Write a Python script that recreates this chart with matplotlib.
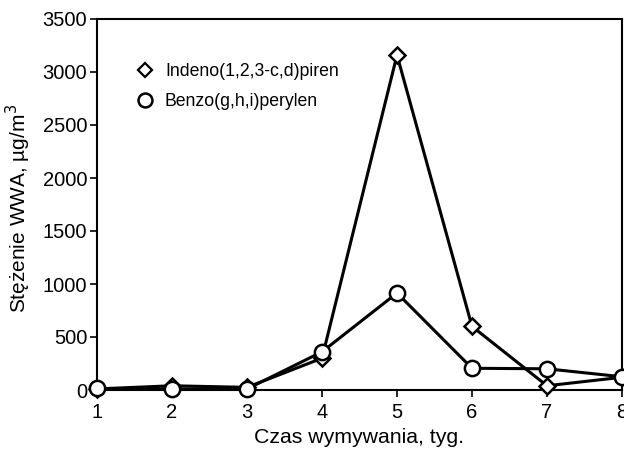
import matplotlib
matplotlib.use("Agg")
import matplotlib.pyplot as plt
from matplotlib.lines import Line2D

plt.rcParams['font.family'] = ['Liberation Sans', 'DejaVu Sans']

# data
weeks = [1, 2, 3, 4, 5, 6, 7, 8]
indeno = [10, 40, 25, 300, 3160, 600, 40, 120]
benzo = [15, 10, 10, 360, 915, 205, 200, 125]
labels = ["Indeno(1,2,3-c,d)piren", "Benzo(g,h,i)perylen"]

fig = plt.figure(figsize=(6.24, 4.51), dpi=100)
ax = fig.add_axes([97 / 624, 1 - 390 / 451, 525 / 624, 371 / 451])

ax.plot(weeks, indeno, color='black', lw=2.2, marker='D', ms=8,
        mfc='white', mec='black', mew=1.8, clip_on=False, zorder=3)
ax.plot(weeks, benzo, color='black', lw=2.2, marker='o', ms=11,
        mfc='white', mec='black', mew=1.8, clip_on=False, zorder=4)

ax.set_xlim(1, 8)
ax.set_ylim(0, 3500)
ax.set_xticks(weeks)
ax.set_yticks(range(0, 3501, 500))
ax.tick_params(direction='out', length=5, width=1.2, labelsize=14.5, pad=2)
ax.tick_params(axis='x', pad=4)
for s in ax.spines.values():
    s.set_linewidth(1.5)

ax.set_xlabel("Czas wymywania, tyg.", fontsize=15.3, labelpad=5)
ax.set_ylabel("Stężenie WWA, µg/m$^3$", fontsize=15)
ax.yaxis.set_label_coords(-0.122, 0.49)

# legend without frame, placed like in the original
handles = [
    Line2D([], [], ls='none', marker='D', ms=7, mfc='white', mec='black', mew=1.6),
    Line2D([], [], ls='none', marker='o', ms=10, mfc='white', mec='black', mew=1.8),
]
ax.legend(handles, labels, loc='upper left', bbox_to_anchor=(0.071, 0.881),
          frameon=False, fontsize=12.7, handletextpad=0.54, labelspacing=0.75,
          borderaxespad=0, borderpad=0, handlelength=1.2)

fig.savefig("out.png", dpi=100)
